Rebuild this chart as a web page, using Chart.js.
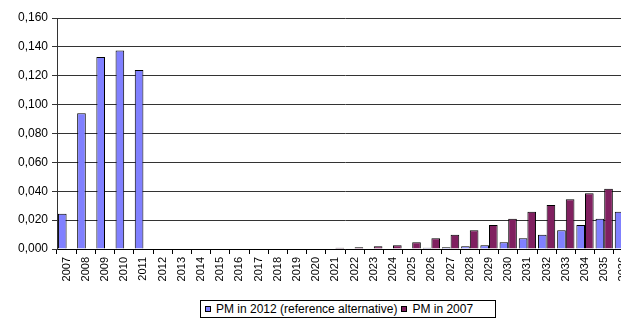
<!DOCTYPE html>
<html>
<head>
<meta charset="utf-8">
<script src="https://cdn.jsdelivr.net/npm/chart.js@4/dist/chart.umd.min.js"></script>
<style>
  html, body { margin: 0; padding: 0; background: #fff; overflow: hidden; }
  #wrap { position: relative; width: 621px; height: 320px; overflow: hidden; }
  #c { position: absolute; left: 0; top: 0; }
  #legend {
    position: absolute; left: 200px; top: 300px; width: 290px; height: 16px;
    border: 1px solid #000; background: #fff; box-sizing: content-box;
    font: 12px "Liberation Sans", Arial, sans-serif; color: #000;
    display: flex; align-items: center; padding: 0 0 0 4px; white-space: nowrap;
  }
  .sw { display: inline-block; width: 4px; height: 4px; border: 1px solid #000; margin-right: 5px; }
  .item { display: inline-flex; align-items: center; margin-right: 4px; }
</style>
</head>
<body>
<div id="wrap">
  <canvas id="c" width="700" height="320"></canvas>
  <div id="legend"></div>
</div>
<script>
// Years on the category axis
const years = ['2007','2008','2009','2010','2011','2012','2013','2014','2015','2016',
               '2017','2018','2019','2020','2021','2022','2023','2024','2025','2026',
               '2027','2028','2029','2030','2031','2032','2033','2034','2035','2036'];

// PM in 2012 (reference alternative)
const pm2012 = [0.0245, 0.0940, 0.1330, 0.1375, 0.1240, null, null, null, null, null,
                null, null, null, null, null, null, null, null, null, 0.0008,
                0.0012, 0.0019, 0.0026, 0.0046, 0.0074, 0.0099, 0.0130, 0.0166, 0.0210, 0.0258];

// PM in 2007
const pm2007 = [null, null, null, null, null, null, null, null, null, null,
                null, null, null, null, 0.0008, 0.0012, 0.0019, 0.0026, 0.0046, 0.0074,
                0.0099, 0.0130, 0.0166, 0.0210, 0.0258, 0.0305, 0.0344, 0.0386, 0.0418, 0.0450];

// Value axis ticks
const yTicks = [0, 0.02, 0.04, 0.06, 0.08, 0.10, 0.12, 0.14, 0.16];

const seriesNames = ['PM in 2012 (reference alternative)', 'PM in 2007'];
const seriesColors = ['#8080ff', '#802060'];

const family = '"Liberation Sans", Arial, sans-serif';

new Chart(document.getElementById('c'), {
  type: 'bar',
  data: {
    labels: years,
    datasets: [
      { label: seriesNames[0], data: pm2012, backgroundColor: seriesColors[0],
        borderColor: '#000', borderWidth: 1 },
      { label: seriesNames[1], data: pm2007, backgroundColor: seriesColors[1],
        borderColor: '#000', borderWidth: 1 }
    ]
  },
  options: {
    responsive: false,
    animation: false,
    events: [],
    layout: { padding: { left: 0, top: 18, right: 67, bottom: 0 } },
    datasets: { bar: { categoryPercentage: 0.9, barPercentage: 1.0 } },
    plugins: { legend: { display: false }, tooltip: { enabled: false } },
    scales: {
      x: {
        offset: true,
        grid: { offset: true, drawOnChartArea: false, drawTicks: true, tickLength: 5, color: '#000' },
        border: { color: '#000' },
        ticks: { font: { family, size: 11 }, color: '#000', minRotation: 90, maxRotation: 90,
                 autoSkip: false, padding: 3 },
        afterFit(scale) { scale.height = 71; scale.paddingLeft = 0; scale.paddingRight = 0; }
      },
      y: {
        min: 0, max: 0.16,
        afterBuildTicks(scale) { scale.ticks = yTicks.map(v => ({ value: v })); },
        grid: { color: '#333', tickLength: 5, drawTicks: true },
        border: { color: '#333' },
        ticks: { font: { family, size: 12 }, color: '#000', padding: 4,
                 callback: v => v.toFixed(3).replace('.', ',') },
        afterFit(scale) { scale.width = 57; scale.paddingTop = 0; scale.paddingBottom = 0; }
      }
    }
  }
});

// Legend below the plot
const lg = document.getElementById('legend');
seriesNames.forEach((name, i) => {
  const it = document.createElement('span');
  it.className = 'item';
  const sw = document.createElement('span');
  sw.className = 'sw';
  sw.style.background = seriesColors[i];
  it.appendChild(sw);
  it.appendChild(document.createTextNode(name));
  lg.appendChild(it);
});
</script>
</body>
</html>
